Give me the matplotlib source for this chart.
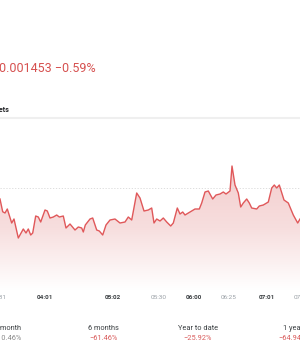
import numpy as np
import matplotlib.pyplot as plt
from matplotlib.colors import LinearSegmentedColormap

plt.rcParams['font.family'] = ['Roboto', 'DejaVu Sans']

# price series (sample index along the trading day, price)
sample_idx = [0, 2.7, 5, 7.3, 11.7, 14, 18.3, 23.3, 26, 28.3, 30.7, 32.7, 35.7, 38.3,
              40.7, 45, 47.3, 50, 53.3, 56.7, 59.3, 63.3, 66, 70, 75, 78.3, 81.7, 83.3,
              85.3, 90, 92.7, 96.7, 99.3, 102.7, 106, 110, 115, 120, 125, 128.3, 131.7,
              136.7, 140, 144, 148.3, 151.7, 154, 156.7, 160, 163.3, 166.7, 170.7, 173.3,
              177.3, 180, 182.7, 185, 190, 195, 199.3, 201.7, 205, 208.3, 212.7, 216, 220,
              223.3, 226, 230, 232, 235, 238.3, 240.7, 243.3, 246.7, 249.3, 251.7, 256.7,
              259.3, 263.3, 268.3, 271.7, 274.3, 276.7, 279.3, 284, 288.3, 293.3, 297.7, 300]
price = [14572, 14521, 14516, 14532, 14476, 14492, 14416, 14452, 14436, 14452, 14428,
         14436, 14504, 14500, 14480, 14528, 14524, 14496, 14500, 14508, 14500, 14504,
         14456, 14472, 14448, 14460, 14456, 14440, 14468, 14492, 14496, 14448, 14444,
         14428, 14468, 14488, 14492, 14476, 14480, 14500, 14488, 14596, 14576, 14524,
         14528, 14536, 14476, 14492, 14484, 14496, 14480, 14464, 14476, 14536, 14512,
         14520, 14508, 14520, 14532, 14532, 14556, 14600, 14604, 14572, 14588, 14592,
         14600, 14592, 14604, 14704, 14628, 14596, 14540, 14556, 14572, 14556, 14536,
         14532, 14544, 14548, 14560, 14616, 14628, 14616, 14628, 14568, 14556, 14508,
         14476, 14492]
price = np.array(price) * 1e-7
prev_close = 0.0014616

tick_pos = [-1, 44.7, 113, 159, 194, 229, 267, 302]
tick_labels = ['03:31', '04:01', '05:02', '05:30', '06:00', '06:25', '07:01', '07:30']
tick_major = [False, True, True, False, True, False, True, False]

periods = ['1 month', '6 months', 'Year to date', '1 year']
period_changes = ['+10.46%', '\u221261.46%', '\u221225.92%', '\u221264.94%']
period_colors = ['#8a8a8a', '#d95c5c', '#d95c5c', '#d95c5c']

W, H = 300, 350
fig = plt.figure(figsize=(3, 3.5), dpi=100)
fig.patch.set_facecolor('white')

def fx(px):
    return px / W

def fy(py):
    return 1 - py / H

# header texts
fig.text(fx(-1), fy(68), '0.001453 \u22120.59%', color='#d6504f', fontsize=9.0,
         ha='left', va='center')
fig.text(fx(9.5), fy(110.5), 'Markets', color='#202124', fontsize=5.2,
         fontweight='bold', ha='right', va='center')
fig.add_artist(plt.Line2D([0, 1], [fy(118), fy(118)], color='#efefef', lw=1.5))

# chart
ax = fig.add_axes([0, fy(290), 1, (290 - 120) / H])
y_lo = prev_close + (188 - 290) * 4e-7
y_hi = prev_close + (188 - 120) * 4e-7
ax.set_xlim(0, 300)
ax.set_ylim(y_lo, y_hi)
ax.axis('off')

line_color = '#e0585a'
poly = ax.fill_between(sample_idx, price, y_lo, color='none', lw=0)
cmap = LinearSegmentedColormap.from_list('fade', ['#ffffff', '#f7dede', '#f4cdcd'])
grad = np.linspace(0, 1, 256).reshape(-1, 1)
im = ax.imshow(grad, cmap=cmap, aspect='auto', origin='lower',
               extent=[0, 300, y_lo, max(price)], zorder=1)
verts = poly.get_paths()[0]
im.set_clip_path(verts, transform=ax.transData)
ax.plot(sample_idx, price, color=line_color, lw=1.0, zorder=3)
ax.axhline(prev_close, color='#d8d8d8', lw=0.6, ls=(0, (1.5, 2)), zorder=2)

# x tick labels
for pos, lab, major in zip(tick_pos, tick_labels, tick_major):
    fig.text(fx(pos), fy(297.5), lab, fontsize=4.6, ha='center', va='center',
             color='#3c4043' if major else '#9aa0a6',
             fontweight='bold' if major else 'normal')

# period summary
centers = [8, 103.5, 198, 293]
for c, name, chg, col in zip(centers, periods, period_changes, period_colors):
    fig.text(fx(c), fy(328), name, fontsize=5.3, ha='center', va='center', color='#3c4043')
    fig.text(fx(c), fy(338.5), chg, fontsize=5.3, ha='center', va='center', color=col)

fig.savefig('out.png', dpi=100)
